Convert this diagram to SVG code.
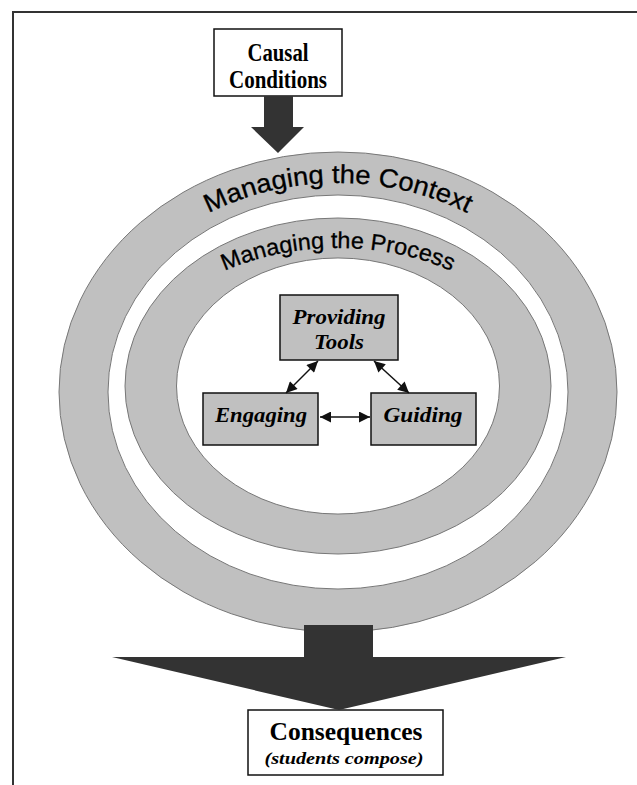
<svg xmlns="http://www.w3.org/2000/svg" width="637" height="785" viewBox="0 0 637 785">
<style>
.ring{fill:#c0c0c0;stroke:#777;stroke-width:1;fill-rule:evenodd}
.box{fill:#fff;stroke:#111;stroke-width:1.5}
.gbox{fill:#c0c0c0;stroke:#111;stroke-width:1.5}
.dark{fill:#333}
.serifb{font-family:"Liberation Serif","Times New Roman",serif;font-weight:bold;fill:#000}
.serifbi{font-family:"Liberation Serif","Times New Roman",serif;font-weight:bold;font-style:italic;fill:#000}
.arc{font-family:"Liberation Sans",Arial,sans-serif;fill:#000;stroke:#000;stroke-width:0.3}
.con{stroke:#111;stroke-width:1.5;fill:none}
</style>
<defs>
<marker id="ah" viewBox="0 0 10 10" refX="10" refY="5" markerWidth="12" markerHeight="11" markerUnits="userSpaceOnUse" orient="auto-start-reverse">
<path d="M0,0 L10,5 L0,10 Z" fill="#111"/>
</marker>
<path id="ctxPath" d="M88,392 A250,209 0 0 1 588,392"/>
<path id="procPath" d="M133,386 A205,138 0 0 1 543,386"/>
</defs>
<path d="M13,785 V12 H637" fill="none" stroke="#333" stroke-width="2"/>
<g id="context">
<path class="ring" d="M59,392 A279,240 0 1 0 617,392 A279,240 0 1 0 59,392 Z M108,392 A230,197 0 1 0 568,392 A230,197 0 1 0 108,392 Z"/>
<text class="arc" font-size="26"><textPath href="#ctxPath" startOffset="50%" text-anchor="middle" textLength="268" lengthAdjust="spacingAndGlyphs">Managing the Context</textPath></text>
</g>
<g id="process">
<path class="ring" d="M125,386 A213,168 0 1 0 551,386 A213,168 0 1 0 125,386 Z M176.5,386 A161.5,128 0 1 0 499.5,386 A161.5,128 0 1 0 176.5,386 Z"/>
<text class="arc" font-size="23"><textPath href="#procPath" startOffset="50%" text-anchor="middle" textLength="233" lengthAdjust="spacingAndGlyphs">Managing the Process</textPath></text>
</g>
<g id="causal">
<rect class="box" x="214" y="29" width="128" height="67"/>
<text class="serifb" font-size="26" x="278" y="61" text-anchor="middle" textLength="61" lengthAdjust="spacingAndGlyphs">Causal</text>
<text class="serifb" font-size="26" x="278" y="88" text-anchor="middle" textLength="98" lengthAdjust="spacingAndGlyphs">Conditions</text>
</g>
<g id="consequences">
<rect class="box" x="248" y="710" width="195" height="65"/>
<text class="serifb" font-size="26" x="346" y="740" text-anchor="middle" textLength="153" lengthAdjust="spacingAndGlyphs">Consequences</text>
<text class="serifbi" font-size="16" x="344" y="764" text-anchor="middle" textLength="159" lengthAdjust="spacingAndGlyphs">(students compose)</text>
</g>
<g id="tools">
<rect class="gbox" x="280" y="295" width="118" height="65"/>
<text class="serifbi" font-size="22" x="339" y="324" text-anchor="middle" textLength="93" lengthAdjust="spacingAndGlyphs">Providing</text>
<text class="serifbi" font-size="22" x="339" y="349" text-anchor="middle" textLength="50" lengthAdjust="spacingAndGlyphs">Tools</text>
</g>
<g id="engaging">
<rect class="gbox" x="203" y="393" width="115" height="52"/>
<text class="serifbi" font-size="22" x="261" y="422" text-anchor="middle" textLength="92" lengthAdjust="spacingAndGlyphs">Engaging</text>
</g>
<g id="guiding">
<rect class="gbox" x="371" y="393" width="105" height="52"/>
<text class="serifbi" font-size="22" x="423" y="422" text-anchor="middle" textLength="79" lengthAdjust="spacingAndGlyphs">Guiding</text>
</g>
<g id="connectors">
<polygon class="dark" points="264,96 293,96 293,127 304,127 278,153 251,127 264,127"/>
<polygon class="dark" points="304,625 373,625 373,657 566,657 339,710 112,657 304,657"/>
<line class="con" x1="320" y1="417" x2="370" y2="417" marker-start="url(#ah)" marker-end="url(#ah)"/>
<line class="con" x1="318" y1="361" x2="286" y2="393" marker-start="url(#ah)" marker-end="url(#ah)"/>
<line class="con" x1="374" y1="361" x2="409" y2="393" marker-start="url(#ah)" marker-end="url(#ah)"/>
</g>
</svg>
